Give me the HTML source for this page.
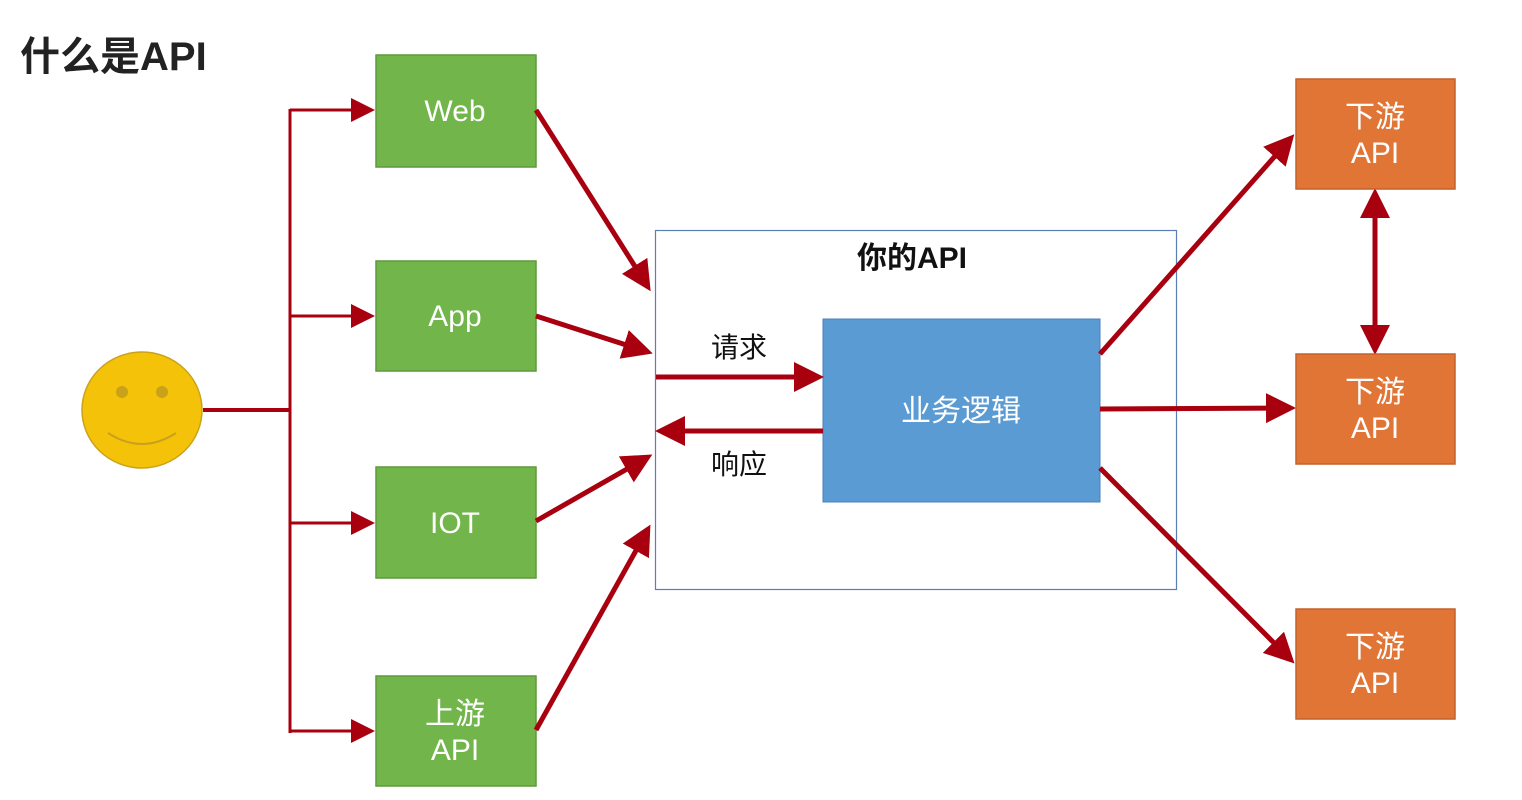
<!DOCTYPE html>
<html><head><meta charset="utf-8"><style>
html,body{margin:0;padding:0;background:#fff;}
svg{display:block;}
text{font-family:"Liberation Sans","Noto Sans CJK SC",sans-serif;}
</style></head><body>
<svg width="1522" height="800" viewBox="0 0 1522 800" xmlns="http://www.w3.org/2000/svg">
<defs>
<marker id="a" markerWidth="6" markerHeight="6" refX="5" refY="3" orient="auto" markerUnits="strokeWidth">
<path d="M0,0 L6,3 L0,6 z" fill="#a8000f"/></marker>
<marker id="b" markerWidth="6" markerHeight="6" refX="5" refY="3" orient="auto" markerUnits="strokeWidth">
<path d="M0,0 L6,3 L0,6 z" fill="#a8000f"/></marker>
<marker id="s" markerWidth="8" markerHeight="8" refX="7" refY="4" orient="auto" markerUnits="strokeWidth">
<path d="M0,0 L8,4 L0,8 z" fill="#a8000f"/></marker>
</defs>
<text x="20" y="70" font-size="40" font-weight="bold" fill="#222">什么是API</text>

<!-- smiley -->
<ellipse cx="142" cy="410" rx="60" ry="58" fill="#f5c20a" stroke="#c9a31a" stroke-width="1.5"/>
<circle cx="122" cy="392" r="6" fill="#c9a11a"/>
<circle cx="162" cy="392" r="6" fill="#c9a11a"/>
<path d="M108,433 Q142,455 176,433" fill="none" stroke="#c9a11a" stroke-width="2"/>

<!-- tree -->
<g stroke="#a8000f" fill="none">
<line x1="203" y1="410" x2="290" y2="410" stroke-width="4"/>
<line x1="290" y1="109" x2="290" y2="733" stroke-width="3"/>
<line x1="290" y1="110" x2="372" y2="110" stroke-width="3" marker-end="url(#s)"/>
<line x1="290" y1="316" x2="372" y2="316" stroke-width="3" marker-end="url(#s)"/>
<line x1="290" y1="523" x2="372" y2="523" stroke-width="3" marker-end="url(#s)"/>
<line x1="290" y1="731" x2="372" y2="731" stroke-width="3" marker-end="url(#s)"/>
</g>

<!-- green boxes -->
<g fill="#72b54a" stroke="#5e9a3c" stroke-width="1.5">
<rect x="376" y="55" width="160" height="112"/>
<rect x="376" y="261" width="160" height="110"/>
<rect x="376" y="467" width="160" height="111"/>
<rect x="376" y="676" width="160" height="110"/>
</g>
<g fill="#fff" font-size="30" text-anchor="middle">
<text x="455" y="121">Web</text>
<text x="455" y="326">App</text>
<text x="455" y="533">IOT</text>
<text x="455" y="724">上游</text>
<text x="455" y="760">API</text>
</g>

<!-- API box -->
<rect x="655.5" y="230.5" width="521" height="359" fill="none" stroke="#5a7fb5" stroke-width="1.2"/>
<text x="912" y="268" font-size="30" font-weight="bold" text-anchor="middle" fill="#111">你的API</text>
<rect x="823" y="319" width="277" height="183" fill="#5b9bd3" stroke="#4a82b8" stroke-width="1"/>
<text x="961" y="421" font-size="30" fill="#fff" text-anchor="middle">业务逻辑</text>
<text x="739" y="357" font-size="28" fill="#111" text-anchor="middle">请求</text>
<text x="739" y="474" font-size="28" fill="#111" text-anchor="middle">响应</text>

<g stroke="#a8000f" stroke-width="5" fill="none">
<line x1="536" y1="110" x2="648" y2="287" marker-end="url(#a)"/>
<line x1="536" y1="316" x2="648" y2="352" marker-end="url(#a)"/>
<line x1="536" y1="521" x2="648" y2="457" marker-end="url(#a)"/>
<line x1="536" y1="730" x2="648" y2="529" marker-end="url(#a)"/>
<line x1="656" y1="377" x2="819" y2="377" marker-end="url(#a)"/>
<line x1="823" y1="431" x2="660" y2="431" marker-end="url(#a)"/>
<line x1="1100" y1="354" x2="1291" y2="138" marker-end="url(#a)"/>
<line x1="1100" y1="409" x2="1291" y2="408" marker-end="url(#a)"/>
<line x1="1100" y1="468" x2="1291" y2="660" marker-end="url(#a)"/>
<line x1="1375" y1="215" x2="1375" y2="193" marker-end="url(#a)"/>
<line x1="1375" y1="215" x2="1375" y2="350" marker-end="url(#a)"/>
</g>

<!-- orange boxes -->
<g fill="#e07535" stroke="#c4622a" stroke-width="1.5">
<rect x="1296" y="79" width="159" height="110"/>
<rect x="1296" y="354" width="159" height="110"/>
<rect x="1296" y="609" width="159" height="110"/>
</g>
<g fill="#fff" font-size="30" text-anchor="middle">
<text x="1375" y="127">下游</text><text x="1375" y="163">API</text>
<text x="1375" y="402">下游</text><text x="1375" y="438">API</text>
<text x="1375" y="657">下游</text><text x="1375" y="693">API</text>
</g>
</svg>
</body></html>
